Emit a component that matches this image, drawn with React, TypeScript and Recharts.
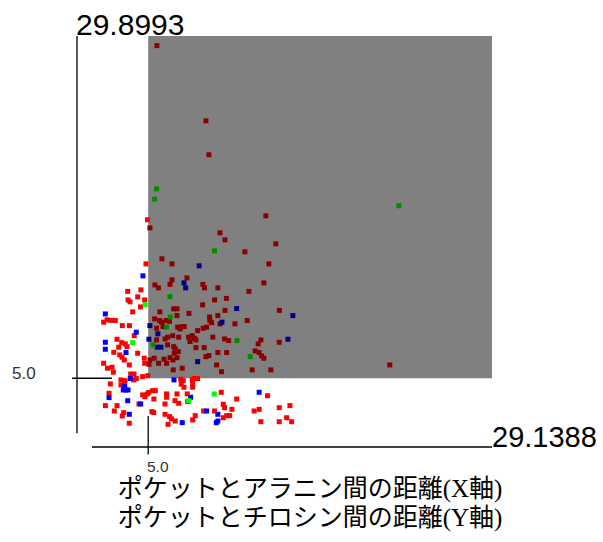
import React from "react";
import { ScatterChart, Scatter, XAxis, YAxis, ReferenceArea, ReferenceLine } from "recharts";

const xMax = 29.1388;
const yMax = 29.8993;
const cut = 5.0;

const xAxisTitle = "ポケットとアラニン間の距離(X軸)";
const yAxisTitle = "ポケットとチロシン間の距離(Y軸)";

const redPoints: [number, number][] = [
  [5.61,29.20],[9.05,23.73],[9.26,21.26],[4.95,16.53],[5.12,15.94],[13.26,16.82],[10.04,15.58],[10.39,15.07],[13.96,14.78],[11.79,14.20],
  [5.96,13.69],[6.67,13.32],[13.47,13.32],[4.84,13.32],[7.72,12.30],[6.67,12.16],[6.53,11.83],[5.47,11.79],[5.72,11.58],[8.84,11.83],
  [8.95,11.58],[9.89,11.58],[13.12,11.94],[12.07,11.32],[3.56,11.32],[4.49,11.43],[4.26,10.92],[3.58,10.70],[3.72,10.56],[4.75,10.70],
  [10.49,10.81],[9.66,10.70],[4.46,10.19],[8.82,10.34],[3.91,9.83],[5.82,9.83],[6.79,10.05],[7.02,10.05],[7.86,9.72],[7.02,9.56],
  [9.89,9.56],[10.39,9.94],[14.21,9.94],[9.31,9.46],[1.87,9.08],[2.11,9.25],[2.39,9.21],[2.69,9.20],[3.18,8.83],[3.68,8.83],
  [5.45,9.32],[5.80,9.20],[6.27,9.20],[6.49,9.14],[6.04,8.76],[5.59,8.64],[7.07,8.72],[7.30,8.74],[7.53,8.76],[7.23,8.59],
  [8.47,8.47],[8.86,8.64],[9.10,8.72],[9.33,9.20],[9.45,9.05],[10.04,8.96],[11.09,8.96],[11.95,9.20],[6.36,7.99],[6.72,8.10],
  [7.14,7.99],[7.84,7.99],[8.09,8.10],[8.23,7.91],[8.35,7.79],[7.93,7.67],[9.54,7.99],[10.36,7.86],[10.65,7.74],[12.91,7.79],
  [12.72,7.50],[14.20,7.62],[4.02,8.10],[2.81,7.84],[3.14,7.59],[3.39,7.50],[3.51,7.30],[2.93,7.26],[2.58,6.89],[3.00,6.70],
  [3.16,6.53],[3.32,6.33],[5.59,7.79],[6.18,7.86],[6.36,7.43],[6.79,7.30],[6.90,7.14],[7.11,6.94],[6.83,6.82],[6.53,6.50],
  [6.11,6.39],[6.29,6.09],[6.74,6.33],[7.02,6.50],[5.42,6.46],[5.12,6.33],[5.05,6.02],[5.73,6.09],[8.35,7.23],[8.93,7.23],
  [9.89,6.87],[10.51,6.87],[9.05,6.57],[9.26,6.65],[9.80,5.97],[10.15,5.48],[12.51,6.99],[12.79,6.87],[12.96,6.63],[13.12,6.46],
  [12.30,5.61],[13.61,5.61],[7.39,5.73],[6.76,5.61],[1.87,6.09],[2.15,5.73],[2.46,5.80],[2.55,5.44],[4.26,6.82],[3.67,5.97],
  [3.77,5.31],[4.00,5.31],[4.72,6.46],[4.75,6.09],[4.61,5.12],[4.97,5.19],[2.34,4.59],[3.09,4.88],[3.37,4.83],[3.09,4.51],
  [3.32,4.44],[3.98,4.88],[4.16,4.98],[7.28,4.93],[7.46,4.83],[7.32,4.57],[7.51,4.35],[8.09,4.88],[8.23,4.98],[8.47,4.98],
  [8.12,4.64],[8.12,4.35],[2.25,3.91],[4.61,3.79],[4.77,3.66],[4.94,3.86],[5.05,3.98],[5.31,4.10],[5.50,4.10],[5.40,3.49],
  [6.29,3.86],[6.29,3.62],[7.02,3.86],[7.74,3.86],[6.88,3.37],[7.14,3.18],[7.77,3.30],[10.13,3.98],[11.21,3.49],[13.38,3.73],
  [1.99,3.01],[2.81,3.01],[2.62,2.62],[3.28,2.50],[3.18,2.26],[4.35,3.13],[3.67,1.73],[5.26,2.57],[5.38,2.50],[6.18,3.13],
  [6.18,2.38],[6.50,2.21],[6.39,1.65],[6.90,1.89],[6.64,2.04],[8.12,1.97],[8.30,2.28],[8.89,2.62],[9.66,2.62],[10.27,3.11],
  [10.36,2.86],[10.51,2.28],[10.27,2.13],[10.88,2.74],[10.72,2.28],[12.44,2.62],[12.79,2.74],[12.91,1.84],[14.20,2.86],[14.95,3.01],
  [14.20,1.84],[14.72,2.13],[15.07,1.84],[21.96,5.97],[5.94,9.08]
];

const bluePoints: [number, number][] = [
  [4.63,12.45],[8.58,13.18],[7.51,11.94],[7.63,11.58],[11.21,10.07],[15.16,9.56],[1.99,9.68],[5.12,8.83],[10.18,9.08],[4.16,8.35],
  [5.68,8.23],[14.81,7.84],[1.99,7.62],[1.99,7.11],[5.05,7.84],[5.64,7.26],[5.89,7.26],[3.44,6.87],[8.47,6.21],[3.74,4.98],
  [3.25,4.15],[3.42,4.15],[3.58,4.15],[3.35,4.44],[6.81,4.88],[2.25,3.59],[7.98,3.62],[12.79,3.98],[3.56,3.37],[3.67,2.38],
  [4.47,3.13],[7.39,1.77],[9.10,2.62],[9.89,2.38],[9.89,1.89],[9.78,1.77]
];

const greenPoints: [number, number][] = [
  [5.59,18.78],[5.45,18.03],[22.60,17.55],[9.65,14.27],[6.53,10.94],[4.79,10.34],[6.55,9.46],[6.29,8.72],[11.23,7.74],[3.91,7.59],
  [5.35,7.43],[12.16,6.57],[9.64,3.86],[7.84,3.37]
];

const series = [
  { name: "red", points: redPoints, bright: "#ff0000", dark: "#8b0000" },
  { name: "blue", points: bluePoints, bright: "#0000ff", dark: "#00008b" },
  { name: "green", points: greenPoints, bright: "#00ff00", dark: "#008b00" },
];

const W = 603;
const H = 542;
const margin = { top: 36, right: 111, bottom: 95, left: 77 };

const makeShape = (bright: string, dark: string) => (p: any) => {
  const inside = p.payload && p.payload.x >= cut && p.payload.y >= cut;
  return <rect x={p.cx - 2.5} y={p.cy - 2.5} width={5} height={5} fill={inside ? dark : bright} />;
};

export default function App() {
  return (
    <div style={{ position: "absolute", left: 0, top: 0, width: W, height: H, background: "#fff" }}>
      <ScatterChart width={W} height={H} margin={margin}>
        <XAxis type="number" dataKey="x" domain={[0, xMax]} hide height={0} allowDataOverflow />
        <YAxis type="number" dataKey="y" domain={[0, yMax]} hide width={0} allowDataOverflow />
        <ReferenceArea x1={cut} x2={xMax} y1={cut} y2={yMax} fill="#808080" fillOpacity={1} stroke="none" ifOverflow="visible" />
        <ReferenceLine segment={[{ x: 0, y: 1 }, { x: 0, y: yMax }]} stroke="#000" strokeWidth={1.3} ifOverflow="visible" />
        <ReferenceLine segment={[{ x: 1.05, y: 0 }, { x: xMax, y: 0 }]} stroke="#000" strokeWidth={1.3} ifOverflow="visible" />
        <ReferenceLine segment={[{ x: -0.35, y: cut }, { x: 2.45, y: cut }]} stroke="#000" strokeWidth={1.3} ifOverflow="visible" />
        <ReferenceLine segment={[{ x: cut, y: -0.55 }, { x: cut, y: 2.26 }]} stroke="#000" strokeWidth={1.3} ifOverflow="visible" />
        {series.map((s) => (
          <Scatter
            key={s.name}
            name={s.name}
            data={s.points.map(([x, y]) => ({ x, y }))}
            isAnimationActive={false}
            shape={makeShape(s.bright, s.dark)}
          />
        ))}
      </ScatterChart>
      <svg width={W} height={H} style={{ position: "absolute", left: 0, top: 0, pointerEvents: "none" }}>
        <text x={76} y={35} fontFamily="Liberation Sans, Arial, sans-serif" fontSize={30} fill="#000">{yMax.toFixed(4)}</text>
        <text x={492} y={447} fontFamily="Liberation Sans, Arial, sans-serif" fontSize={29} fill="#000">{xMax.toFixed(4)}</text>
        <text x={12} y={379} fontFamily="Liberation Sans, Arial, sans-serif" fontSize={17} fill="#333">{cut.toFixed(1)}</text>
        <text x={147} y={472} fontFamily="Liberation Sans, Arial, sans-serif" fontSize={15.5} fill="#333">{cut.toFixed(1)}</text>
        <text x={310} y={497} textAnchor="middle" fontFamily='"Liberation Serif", "Noto Sans CJK JP", serif' fontSize={25} fill="#000">{xAxisTitle}</text>
        <text x={310} y={526} textAnchor="middle" fontFamily='"Liberation Serif", "Noto Sans CJK JP", serif' fontSize={25} fill="#000">{yAxisTitle}</text>
      </svg>
    </div>
  );
}
